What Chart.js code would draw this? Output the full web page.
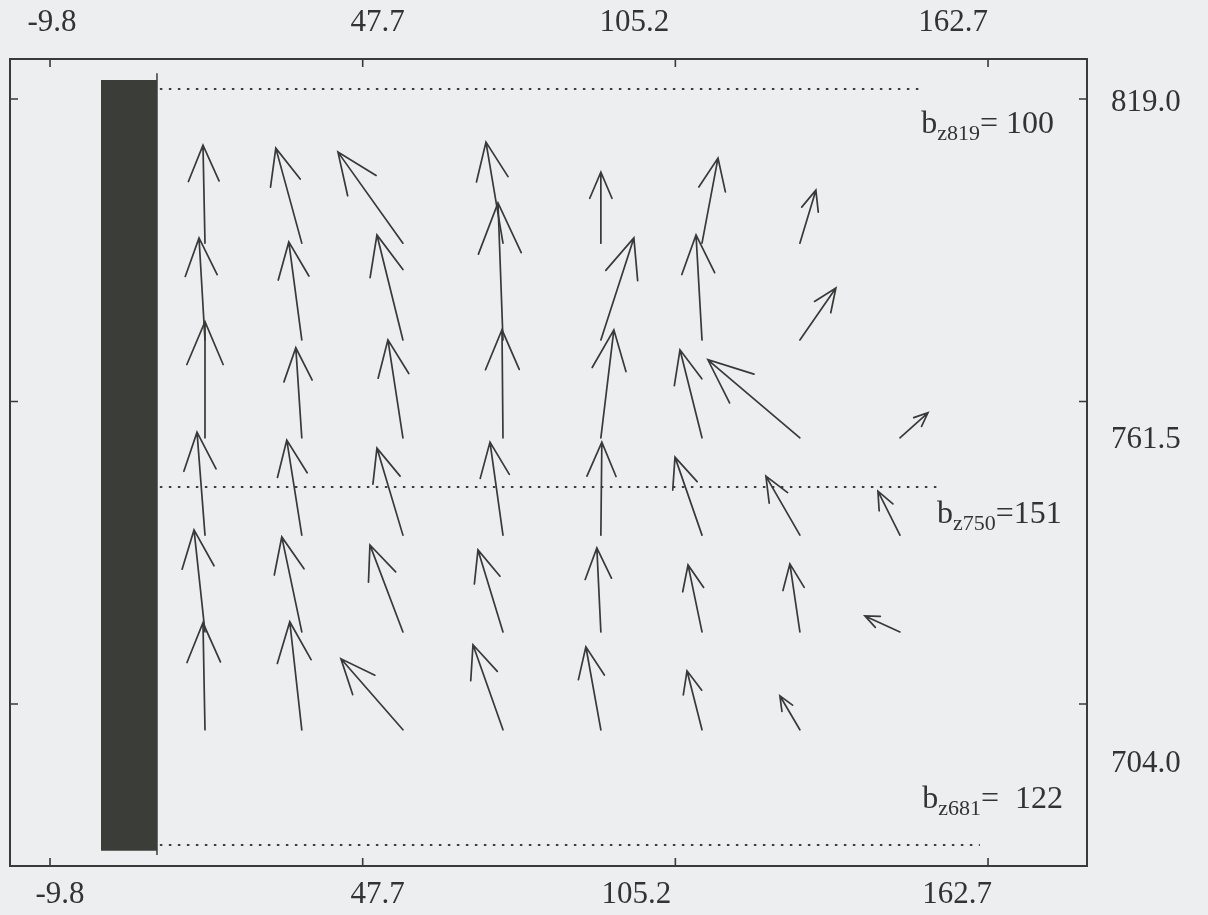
<!DOCTYPE html>
<html>
<head>
<meta charset="utf-8">
<script src="https://cdn.jsdelivr.net/npm/chart.js@4.4.1/dist/chart.umd.min.js"></script>
<style>
html, body { margin: 0; padding: 0; background: #eceef0; }
#wrap { width: 1208px; height: 915px; position: relative; }
</style>
</head>
<body>
<div id="wrap"><canvas id="mycanvas"></canvas></div>
<script>
// axis ticks
var xTicks = [-9.8, 47.7, 105.2, 162.7];
var xTickLabels = ["-9.8", "47.7", "105.2", "162.7"];
var yTicks = [819.0, 761.5, 704.0];
var yTickLabels = ["819.0", "761.5", "704.0"];

// vector origins (rows listed bottom to top)
var gridX = [18.7, 36.5, 55.1, 73.5, 91.5, 110.1, 128.1, 146.5];
var gridY = [699.1, 717.7, 736.1, 754.6, 773.2, 791.6];

// vector components, one row per gridY entry, null = no arrow
var vecU = [
  [-0.37, -2.21, -11.40, -5.52, -2.76, -2.76, -3.68, null],
  [-2.02, -3.68, -6.07, -4.60, -0.74, -2.57, -1.84, -6.44],
  [-1.47, -2.76, -4.78, -2.39, 0.18, -4.97, -6.25, -4.05],
  [0.00, -1.10, -2.76, -0.18, 2.39, -4.05, -16.92, 5.15],
  [-1.10, -2.39, -4.78, -0.92, 6.07, -1.10, 6.62, null],
  [-0.37, -4.78, -11.95, -3.13, 0.00, 2.94, 2.94, null]
];
var vecV = [
  [20.34, 20.53, 13.50, 16.16, 15.78, 11.21, 6.46, null],
  [19.39, 18.06, 16.54, 15.59, 15.97, 12.74, 12.93, 3.04],
  [19.58, 18.06, 16.54, 17.68, 17.68, 14.83, 11.21, 8.36],
  [22.05, 17.11, 18.63, 20.53, 20.53, 16.73, 14.83, 4.75],
  [19.39, 18.63, 19.96, 26.04, 19.39, 19.96, 9.88, null],
  [18.63, 18.06, 17.30, 19.20, 13.50, 16.16, 10.07, null]
];

// dark block on the left
var blockX = [-0.43, 9.87];
var blockY = [676.1, 822.6];
var blockEdgeY = [675.3, 823.9];

// dotted levels
var levelZ = ["819", "750", "681"];
var levelB = ["100", "151", "122"];
var levelY = [820.9, 745.25, 677.2];
var levelXStart = [10.4, 10.4, 10.4];
var levelXEnd = [150.7, 153.3, 161.2];

var arrows = [];
gridY.forEach(function(yv, r) {
  gridX.forEach(function(xv, c) {
    if (vecU[r][c] === null) return;
    arrows.push({x: xv, y: yv, u: vecU[r][c], v: vecV[r][c]});
  });
});

var datasets = [
  {
    data: [{x: blockX[0], y: blockY[1]}, {x: blockX[1], y: blockY[1]}],
    fill: '+1', backgroundColor: '#3b3d38', borderWidth: 0, pointRadius: 0
  },
  {
    data: [{x: blockX[0], y: blockY[0]}, {x: blockX[1], y: blockY[0]}],
    fill: false, borderWidth: 0, pointRadius: 0
  },
  {
    data: [{x: blockX[1], y: blockEdgeY[0]}, {x: blockX[1], y: blockEdgeY[1]}],
    fill: false, borderColor: '#3b3d38', borderWidth: 1.5, pointRadius: 0
  }
];
levelY.forEach(function(yv, i) {
  datasets.push({
    data: [{x: levelXStart[i], y: yv}, {x: levelXEnd[i], y: yv}],
    fill: false, borderColor: '#3e3e3e', borderWidth: 1.8,
    borderDash: [2.5, 6.5], pointRadius: 0
  });
});
datasets.push({
  data: arrows, quiver: true, showLine: false, pointRadius: 0,
  borderColor: '#383a37', borderWidth: 1.7
});

var serif = '"Liberation Serif", "DejaVu Serif", serif';

// arrows drawn through the scales
var quiverPlugin = {
  id: 'quiver',
  afterDatasetsDraw: function(chart) {
    var ctx = chart.ctx, sx = chart.scales.x, sy = chart.scales.y;
    var h = 23 * Math.PI / 180;
    chart.data.datasets.forEach(function(ds) {
      if (!ds.quiver) return;
      ctx.save();
      ctx.strokeStyle = ds.borderColor;
      ctx.lineWidth = ds.borderWidth;
      ctx.lineCap = 'round';
      ds.data.forEach(function(p) {
        var x0 = sx.getPixelForValue(p.x), y0 = sy.getPixelForValue(p.y);
        var x1 = sx.getPixelForValue(p.x + p.u), y1 = sy.getPixelForValue(p.y + p.v);
        var ang = Math.atan2(y1 - y0, x1 - x0);
        var len = Math.hypot(x1 - x0, y1 - y0) * 0.4;
        ctx.beginPath();
        ctx.moveTo(x0, y0);
        ctx.lineTo(x1, y1);
        ctx.moveTo(x1 - len * Math.cos(ang - h), y1 - len * Math.sin(ang - h));
        ctx.lineTo(x1, y1);
        ctx.lineTo(x1 - len * Math.cos(ang + h), y1 - len * Math.sin(ang + h));
        ctx.stroke();
      });
      ctx.restore();
    });
  }
};

// inward ticks, edge labels and level notes
var framePlugin = {
  id: 'frameDecor',
  afterDraw: function(chart, args, opts) {
    var ctx = chart.ctx, a = chart.chartArea;
    var sx = chart.scales.x, sy = chart.scales.y;
    ctx.save();
    ctx.strokeStyle = '#3a3a3a';
    ctx.lineWidth = 1.6;
    ctx.beginPath();
    xTicks.forEach(function(v) {
      var px = sx.getPixelForValue(v);
      ctx.moveTo(px, a.top); ctx.lineTo(px, a.top + 8);
      ctx.moveTo(px, a.bottom); ctx.lineTo(px, a.bottom - 8);
    });
    yTicks.forEach(function(v) {
      var py = sy.getPixelForValue(v);
      ctx.moveTo(a.left, py); ctx.lineTo(a.left + 8, py);
      ctx.moveTo(a.right, py); ctx.lineTo(a.right - 8, py);
    });
    ctx.stroke();

    ctx.fillStyle = '#333333';
    ctx.font = '31px ' + serif;
    ctx.textAlign = 'center';
    ctx.textBaseline = 'middle';
    xTicks.forEach(function(v, i) {
      var px = sx.getPixelForValue(v);
      ctx.fillText(xTickLabels[i], px + opts.topShift[i], a.top - 36);
      ctx.fillText(xTickLabels[i], px + opts.bottomShift[i], a.bottom + 29);
    });
    ctx.textAlign = 'left';
    yTicks.forEach(function(v, i) {
      var py = sy.getPixelForValue(v);
      ctx.fillText(yTickLabels[i], a.right + 24, py + opts.rightShift[i]);
    });

    ctx.textBaseline = 'alphabetic';
    levelZ.forEach(function(z, i) {
      var p = opts.notes[i];
      var x = sx.getPixelForValue(p.x), y = sy.getPixelForValue(p.y);
      ctx.font = '32px ' + serif;
      ctx.fillText('b', x, y);
      x += ctx.measureText('b').width;
      ctx.font = '22px ' + serif;
      ctx.fillText('z' + z, x, y + 7);
      x += ctx.measureText('z' + z).width;
      ctx.font = '32px ' + serif;
      ctx.fillText('=' + p.gap + levelB[i], x, y);
    });
    ctx.restore();
  }
};

function edge(pos, size, isX) {
  var o = {
    type: 'linear', position: pos,
    min: isX ? -17.16 : 673.21, max: isX ? 180.9 : 826.6,
    ticks: {display: false},
    grid: {drawOnChartArea: false, drawTicks: false},
    border: {display: true, color: '#3a3a3a', width: 2},
    afterBuildTicks: function(scale) {
      scale.ticks = (isX ? xTicks : yTicks).map(function(v) { return {value: v}; });
    },
    afterFit: function(scale) {
      if (isX) scale.height = size; else scale.width = size;
    }
  };
  return o;
}

var ctx = document.getElementById('mycanvas');
var myChart = new Chart(ctx, {
  type: 'line',
  data: {datasets: datasets},
  options: {
    responsive: true,
    maintainAspectRatio: false,
    devicePixelRatio: 1,
    animation: false,
    layout: {padding: 0},
    scales: {
      x: edge('bottom', 49, true),
      x2: edge('top', 59, true),
      y: edge('left', 10, false),
      y2: edge('right', 121, false)
    },
    plugins: {
      legend: {display: false},
      tooltip: {enabled: false},
      frameDecor: {
        topShift: [2, 15, -41, -35],
        bottomShift: [10, 15, -39, -31],
        rightShift: [4, 38, 60],
        notes: [
          {x: 150.4, y: 812.5, gap: ' '},
          {x: 153.3, y: 738.4, gap: ''},
          {x: 150.6, y: 684.2, gap: '  '}
        ]
      }
    }
  },
  plugins: [quiverPlugin, framePlugin]
});
</script>
</body>
</html>
